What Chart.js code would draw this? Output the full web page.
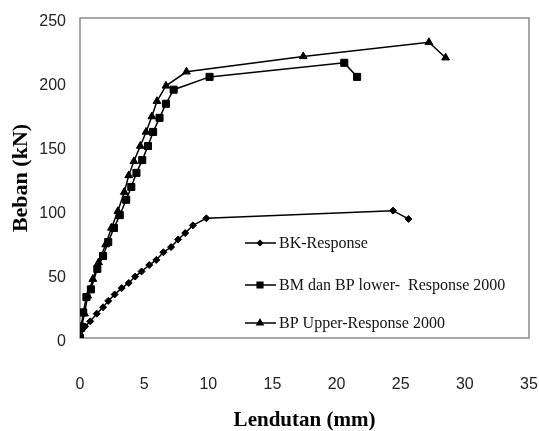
<!DOCTYPE html>
<html>
<head>
<meta charset="utf-8">
<script src="https://cdn.jsdelivr.net/npm/chart.js@4/dist/chart.umd.min.js"></script>
<style>
  html, body { margin: 0; padding: 0; background: #fff; }
  canvas { display: block; }
</style>
</head>
<body>
<canvas id="chart" width="539" height="431"></canvas>
<script>
// values
const seriesNames = ['BK-Response', 'BM dan BP lower-  Response 2000', 'BP Upper-Response 2000'];

const bkX = [0, 0.4, 0.8, 1.3, 1.8, 2.2, 2.7, 3.25, 3.8, 4.3, 4.8, 5.4, 5.95, 6.5, 7.1, 7.65, 8.2, 8.8, 9.85, 24.4, 25.6];
const bkY = [0, 9, 13, 19, 24, 29, 34, 39, 43, 48, 52, 57, 61, 67, 71, 77, 82, 88, 93.5, 99.5, 93];

const bmX = [0, 0.1, 0.25, 0.5, 0.85, 1.35, 1.8, 2.2, 2.65, 3.1, 3.6, 4.0, 4.4, 4.85, 5.3, 5.7, 6.2, 6.7, 7.3, 10.1, 20.6, 21.6];
const bmY = [0, 8, 20, 32, 38, 54, 64, 75, 86, 96, 108, 118, 129, 139, 150, 161, 172, 183, 194, 204, 215, 204];

const bpX = [0, 0.15, 0.35, 0.6, 1.0, 1.45, 2.0, 2.45, 2.95, 3.45, 3.8, 4.2, 4.7, 5.15, 5.6, 6.0, 6.7, 8.3, 17.4, 27.2, 28.5];
const bpY = [0, 10, 19, 33, 46, 59, 73, 86, 99, 114, 127, 138, 150, 161, 173, 185, 197, 208, 220, 231, 219];

const xTicks = [0, 5, 10, 15, 20, 25, 30, 35];
const yTicks = [0, 50, 100, 150, 200, 250];

const pts = (xs, ys) => xs.map((x, i) => ({ x: x, y: ys[i] }));

const tickFont = { family: "'Liberation Sans Narrow', 'Liberation Sans', sans-serif", size: 16 };
const serif = "'Liberation Serif', 'Times New Roman', serif";

// gray frame round the plot area
const framePlugin = {
  id: 'frame',
  beforeDatasetsDraw(chart) {
    const { ctx, chartArea: a } = chart;
    ctx.save();
    ctx.strokeStyle = '#8a8a8a';
    ctx.lineWidth = 1.5;
    ctx.strokeRect(a.left, a.top, a.right - a.left, a.bottom - a.top);
    ctx.restore();
  }
};

// legend sits inside the plot, lower right
const legendPlugin = {
  id: 'innerLegend',
  afterDraw(chart) {
    const ctx = chart.ctx;
    const rows = [243, 285, 323];
    ctx.save();
    chart.data.datasets.forEach((ds, i) => {
      const y = rows[i];
      ctx.strokeStyle = '#000';
      ctx.lineWidth = 1.5;
      ctx.beginPath();
      ctx.moveTo(245, y);
      ctx.lineTo(276, y);
      ctx.stroke();
      ctx.fillStyle = '#000';
      Chart.helpers.drawPoint(ctx, {
        pointStyle: ds.pointStyle, radius: ds.pointRadius - 1, rotation: 0, borderWidth: 1
      }, 260, y);
      ctx.fillStyle = '#111';
      ctx.font = '16px ' + serif;
      ctx.textAlign = 'left';
      ctx.textBaseline = 'middle';
      ctx.fillText(ds.label, 279, y + 1);
    });
    ctx.restore();
  }
};

const line = (label, data, style, r) => ({
  label: label,
  data: data,
  showLine: true,
  borderColor: '#000',
  backgroundColor: '#000',
  borderWidth: 1.5,
  pointStyle: style,
  pointRadius: r,
  pointBackgroundColor: '#000',
  pointBorderColor: '#000',
  pointBorderWidth: 1
});

new Chart(document.getElementById('chart'), {
  type: 'scatter',
  data: {
    datasets: [
      line(seriesNames[0], pts(bkX, bkY), 'rectRot', 3.5),
      line(seriesNames[1], pts(bmX, bmY), 'rect', 5),
      line(seriesNames[2], pts(bpX, bpY), 'triangle', 4.5)
    ]
  },
  options: {
    responsive: false,
    animation: false,
    layout: { padding: { top: 18, right: 10, left: 0, bottom: 0 } },
    plugins: {
      legend: { display: false },
      tooltip: { enabled: false }
    },
    scales: {
      x: {
        type: 'linear',
        min: 0,
        max: 35,
        afterBuildTicks: s => { s.ticks = xTicks.map(v => ({ value: v })); },
        afterFit: s => { s.height = 93; s.paddingLeft = 0; s.paddingRight = 0; },
        grid: { display: false, drawTicks: false },
        border: { display: false },
        ticks: { font: tickFont, color: '#222', padding: 37, maxRotation: 0 },
        title: {
          display: true,
          text: 'Lendutan (mm)',
          color: '#000',
          font: { family: serif, size: 21, weight: 'bold', lineHeight: 1 },
          padding: 0
        }
      },
      y: {
        type: 'linear',
        min: 0,
        max: 250,
        afterBuildTicks: s => { s.ticks = yTicks.map(v => ({ value: v })); },
        afterFit: s => { s.width = 80; s.paddingTop = 0; s.paddingBottom = 0; },
        grid: { display: false, drawTicks: false },
        border: { display: false },
        ticks: { font: tickFont, color: '#222', padding: 14, labelOffset: 4 },
        title: {
          display: true,
          text: 'Beban (kN)',
          color: '#000',
          font: { family: serif, size: 22, weight: 'bold', lineHeight: 1 },
          padding: { top: 10, bottom: 0 }
        }
      }
    }
  },
  plugins: [framePlugin, legendPlugin]
});
</script>
</body>
</html>
